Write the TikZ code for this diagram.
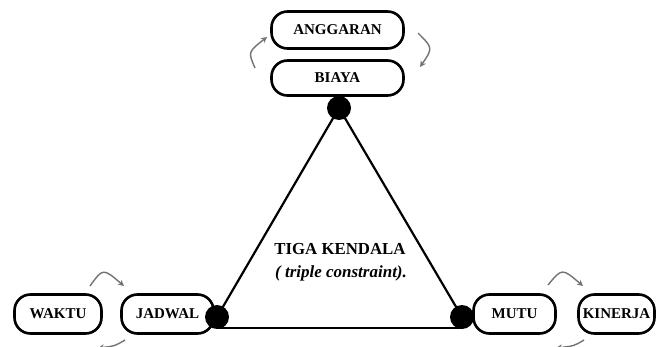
\documentclass[tikz,border=0pt]{standalone}
\usepackage{fontspec}
\setmainfont{Liberation Serif}
\usetikzlibrary{arrows.meta}
\begin{document}
\begin{tikzpicture}[x=1pt,y=-1pt,
  pill/.style={draw=black, line width=2.6pt, fill=white, rounded corners=16pt, inner sep=0pt,
     font=\fontsize{15}{17}\selectfont\bfseries},
  dot/.style={circle, fill=black, minimum size=24pt, inner sep=0pt},
  tri/.style={line width=2.2pt, black},
  cyc/.style={draw=black!55, line width=1.4pt, -{Stealth[length=6pt,width=6pt]}}]
\useasboundingbox (0,0) rectangle (658,347);
\fill[white] (0,0) rectangle (658,347);
% boxes
\node[pill, minimum width=132pt, minimum height=37pt] (anggaran) at (337.5,30) {ANGGARAN};
\node[pill, minimum width=132pt, minimum height=35pt] (biaya) at (337.5,78) {BIAYA};
\node[pill, minimum width=87pt, minimum height=39pt] (waktu) at (58,314) {WAKTU};
\node[pill, minimum width=92pt, minimum height=39pt] (jadwal) at (167.5,314) {JADWAL};
\node[pill, minimum width=82pt, minimum height=39pt] (mutu) at (514.5,314) {MUTU};
\node[pill, minimum width=76pt, minimum height=39pt] (kinerja) at (616.5,314) {KINERJA};
% vertices
\coordinate (T) at (339,108);
\coordinate (L) at (217,317);
\coordinate (R) at (462,317);
\coordinate (Lb) at (217,328);
\coordinate (Rb) at (462,328);
\draw[tri] (T) -- (L);
\draw[tri] (Lb) -- (Rb);
\draw[tri] (R) -- (T);
\node[dot] (top) at (T) {};
\node[dot] (left) at (L) {};
\node[dot] (right) at (R) {};
% center text
\node[font=\fontsize{16.8}{18}\selectfont\bfseries] (title) at (340,249) {TIGA KENDALA};
\node[font=\fontsize{17}{18}\selectfont\bfseries\itshape] (sub) at (341,273) {( triple constraint).};
% cycle arrows
\coordinate (a1s) at (255,68); \coordinate (a1e) at (267,37);
\coordinate (a2s) at (418,33); \coordinate (a2e) at (420,67);
\coordinate (b1s) at (90,286); \coordinate (b1e) at (124,286);
\coordinate (b2s) at (125,340); \coordinate (b2e) at (98,348);
\coordinate (c1s) at (548,285); \coordinate (c1e) at (583,286);
\coordinate (c2s) at (584,340); \coordinate (c2e) at (556,348);
\draw[cyc] (a1s) .. controls (248,52) .. (a1e);
\draw[cyc] (a2s) .. controls (433,48) .. (a2e);
\draw[cyc] (b1s) .. controls (103,268) .. (b1e);
\draw[cyc] (b2s) .. controls (115,346) .. (b2e);
\draw[cyc] (c1s) .. controls (562,268) .. (c1e);
\draw[cyc] (c2s) .. controls (574,346) .. (c2e);
\end{tikzpicture}
\end{document}
